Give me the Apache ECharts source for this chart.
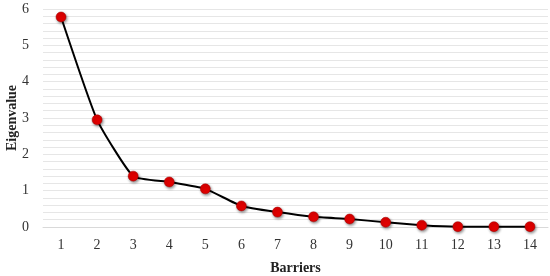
<!DOCTYPE html>
<html><head><meta charset="utf-8">
<script src="https://cdn.jsdelivr.net/npm/echarts@6/dist/echarts.min.js"></script>
<style>html,body{margin:0;padding:0;background:#fff}#c{width:550px;height:276px}</style>
</head><body><div id="c"></div>
<script>
const categories = ['1','2','3','4','5','6','7','8','9','10','11','12','13','14'];
const eigenvalues = [5.78, 2.95, 1.40, 1.24, 1.05, 0.58, 0.41, 0.28, 0.22, 0.13, 0.05, 0.01, 0.01, 0.01];
const yTicks = [0, 1, 2, 3, 4, 5, 6];

const chart = echarts.init(document.getElementById('c'));
const font = '"Liberation Serif", "DejaVu Serif", serif';
chart.setOption({
  animation: false,
  grid: {left: 43, right: 2, top: 9, bottom: 49, outerBoundsMode: 'none', containLabel: false},
  xAxis: {
    type: 'category', data: categories, boundaryGap: true,
    name: 'Barriers', nameLocation: 'middle', nameGap: 34, nameMoveOverlap: false,
    nameTextStyle: {fontFamily: font, fontWeight: 'bold', fontSize: 14, color: '#222'},
    axisLine: {lineStyle: {color: '#d9d9d9'}},
    axisTick: {show: false},
    axisLabel: {fontFamily: font, fontSize: 14, color: '#333', margin: 11}
  },
  yAxis: {
    type: 'value', min: 0, max: 6, interval: 0.2,
    name: 'Eigenvalue', nameLocation: 'middle', nameGap: 24, nameMoveOverlap: false,
    nameTextStyle: {fontFamily: font, fontWeight: 'bold', fontSize: 14, color: '#222'},
    axisLine: {show: false}, axisTick: {show: false},
    splitLine: {lineStyle: {color: '#e6e6e6', width: 1}},
    axisLabel: {
      fontFamily: font, fontSize: 14, color: '#333', margin: 14,
      formatter: v => {
        const r = Math.round(v);
        return (Math.abs(v - r) < 1e-6 && yTicks.includes(r)) ? String(r) : '';
      }
    }
  },
  series: [{
    type: 'line', data: eigenvalues, smooth: 0.15,
    lineStyle: {color: '#000', width: 2},
    symbol: 'circle', symbolSize: 10,
    itemStyle: {color: '#e00000', borderColor: '#a00000', borderWidth: 0.5,
      shadowColor: 'rgba(0,0,0,0.45)', shadowBlur: 3, shadowOffsetX: 1, shadowOffsetY: 1.5}
  }]
});
</script></body></html>
